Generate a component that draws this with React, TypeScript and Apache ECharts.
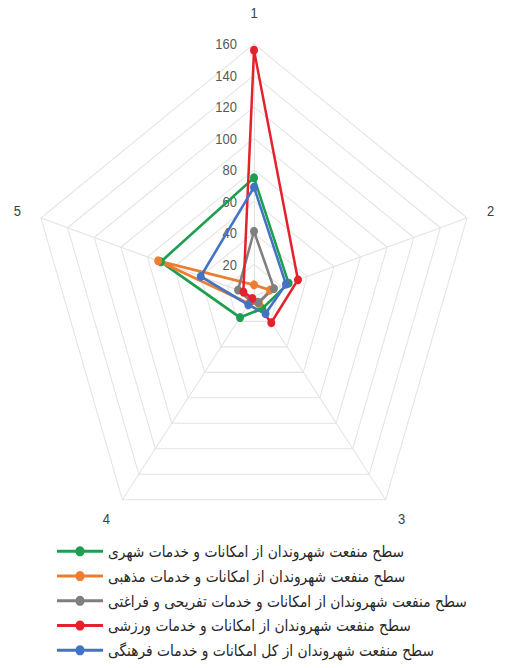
import React, { useEffect, useRef } from "react";
import * as echarts from "echarts";

const axisNames = ["1", "2", "3", "4", "5"];
const axisMax = 160;
const tickInterval = 20;

const seriesNames = [
  "سطح منفعت شهروندان از امکانات و خدمات شهری",
  "سطح منفعت شهروندان از امکانات و خدمات مذهبی",
  "سطح منفعت شهروندان از امکانات و خدمات تفریحی و فراغتی",
  "سطح منفعت شهروندان از امکانات و خدمات ورزشی",
  "سطح منفعت شهروندان از کل امکانات و خدمات فرهنگی",
];
const seriesColors = ["#1e9e50", "#ed7d31", "#7f7f7f", "#e5212b", "#4472c4"];

// values per axis 1..5
const urbanValues = [75, 26, 10, 17, 70];
const religiousValues = [7, 12, 6, 6, 72];
const leisureValues = [41, 15, 5, 4, 12];
const sportsValues = [156, 33, 21, 2, 8];
const culturalValues = [69, 24, 14, 7, 40];

const allValues = [urbanValues, religiousValues, leisureValues, sportsValues, culturalValues];

// ECharts radar runs counter-clockwise; the reference runs clockwise.
const clockwiseOrder = [0, 4, 3, 2, 1];

const legendIcon =
  "path://M0,3.75H18.68A4.5,4.5,0,0,1,27.32,3.75H46V6.25H27.32A4.5,4.5,0,0,1,18.68,6.25H0Z";

export default function App() {
  const ref = useRef<HTMLDivElement>(null);
  useEffect(() => {
    if (!ref.current) return;
    const chart = echarts.init(ref.current, undefined, { renderer: "svg" });
    chart.setOption({
      animation: false,
      backgroundColor: "#ffffff",
      legend: {
        orient: "vertical",
        left: 52,
        top: 477,
        height: 140,
        itemWidth: 46,
        itemHeight: 10,
        itemGap: 6,
        icon: legendIcon,
        data: seriesNames,
        textStyle: {
          fontFamily: "DejaVu Sans",
          fontSize: 13.8,
          lineHeight: 16,
          color: "#262626",
        },
      },
      radar: {
        center: [254, 263],
        radius: 224,
        startAngle: 90,
        shape: "polygon",
        splitNumber: axisMax / tickInterval,
        nameGap: 21,
        axisName: {
          color: "#404040",
          fontSize: 13,
          fontFamily: "Liberation Sans",
        },
        indicator: clockwiseOrder.map((k, i) => ({
          name: axisNames[k],
          min: 0,
          max: axisMax,
          ...(i === 0
            ? {
                axisLabel: {
                  show: true,
                  showMinLabel: false,
                  margin: 17,
                  color: "#595959",
                  fontSize: 13,
                  fontFamily: "Liberation Sans",
                },
              }
            : {}),
        })),
        axisLabel: { show: false },
        axisTick: { show: false },
        axisLine: { lineStyle: { color: "#e3e3e3", width: 1 } },
        splitLine: { lineStyle: { color: "#e3e3e3", width: 1 } },
        splitArea: { show: false },
      },
      series: seriesNames.map((name, i) => ({
        type: "radar",
        name,
        symbol: "circle",
        symbolSize: 8,
        lineStyle: { width: 2.5, color: seriesColors[i] },
        itemStyle: { color: seriesColors[i] },
        data: [{ value: clockwiseOrder.map((k) => allValues[i][k]), name }],
      })),
    });
    return () => chart.dispose();
  }, []);
  return (
    <div
      style={{
        position: "absolute",
        left: 0,
        top: 0,
        width: 512,
        height: 594,
        transform: "scaleY(1.125)",
        transformOrigin: "0 0",
      }}
    >
      <div ref={ref} style={{ width: 512, height: 594 }} />
    </div>
  );
}
